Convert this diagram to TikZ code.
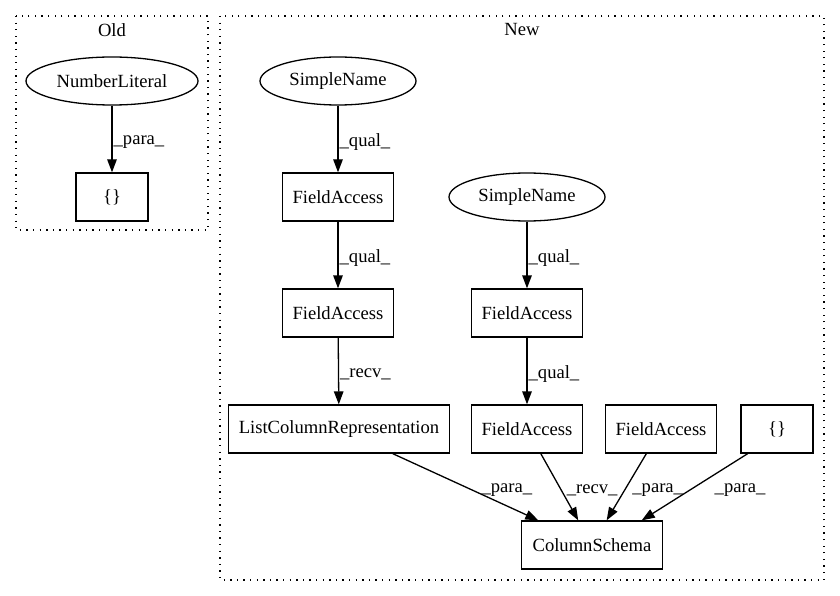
\documentclass[tikz,border=0pt]{standalone}
\usepackage{fontspec}
\setmainfont{Liberation Serif}
\usetikzlibrary{shapes.geometric,arrows.meta,calc}
\begin{document}
\begin{tikzpicture}[x=1pt,y=-1pt,
  every node/.style={font=\fontsize{18.6}{22}\selectfont},
  box/.style={draw, line width=1.3pt, rectangle, minimum height=48pt, minimum width=72pt, inner xsep=10pt, inner ysep=0pt},
  oval/.style={draw, line width=1.3pt, ellipse, minimum height=48pt, inner sep=0pt},
  cluster/.style={draw, line width=1.3pt, dash pattern=on 1.3pt off 5.3pt},
  edge/.style={draw, line width=1.3pt, -{Triangle[length=13pt,width=9.5pt]}},
  lab/.style={anchor=west, inner sep=1pt}
]
\useasboundingbox (0,0) rectangle (840,596);
% clusters
\draw[cluster] (16,16) rectangle (208,230);
\node (oldtitle) at (112,30) {Old};
\draw[cluster] (220,16) rectangle (824,580);
\node (newtitle) at (522,30) {New};
% Old nodes
\node[oval, minimum width=172pt] (oldnum) at (112,81) {NumberLiteral};
\node[box] (oldbr) at (112,197) {\{\}};
% New nodes
\node[oval, minimum width=156pt] (sn1) at (338,81) {SimpleName};
\node[box] (fa1) at (338,197) {FieldAccess};
\node[oval, minimum width=156pt] (sn2) at (527,197) {SimpleName};
\node[box] (fa2) at (338,313) {FieldAccess};
\node[box] (fa3) at (527,313) {FieldAccess};
\node[box] (lcr) at (339,429) {ListColumnRepresentation};
\node[box] (fa4) at (527,429) {FieldAccess};
\node[box] (fa5) at (661,429) {FieldAccess};
\node[box] (nb) at (777,429) {\{\}};
\node[box, inner xsep=11pt] (cs) at (592,545) {ColumnSchema};
% edges
\path[edge] (oldnum) -- node[lab, pos=0.55] {\_para\_} (oldbr);
\path[edge] (sn1) -- node[lab, pos=0.55] {\_qual\_} (fa1);
\path[edge] (fa1) -- node[lab, pos=0.55] {\_qual\_} (fa2);
\path[edge] (sn2) -- node[lab, pos=0.55] {\_qual\_} (fa3);
\path[edge] (fa2) -- node[lab, pos=0.55] {\_recv\_} (lcr);
\path[edge] (fa3) -- node[lab, pos=0.55] {\_qual\_} (fa4);
\path[edge] (lcr) -- node[lab, pos=0.544, xshift=8pt] {\_para\_} (cs);
\path[edge] (fa4) -- node[lab, pos=0.544, xshift=4pt] {\_recv\_} (cs);
\path[edge] (fa5) -- node[lab, pos=0.544, xshift=6pt] {\_para\_} (cs);
\path[edge] ($(nb.south west)!0.1!(nb.south east)$) -- node[lab, pos=0.544, xshift=23pt] {\_para\_} ($(cs.north)!0.7!(cs.north east)$);
\end{tikzpicture}
\end{document}
